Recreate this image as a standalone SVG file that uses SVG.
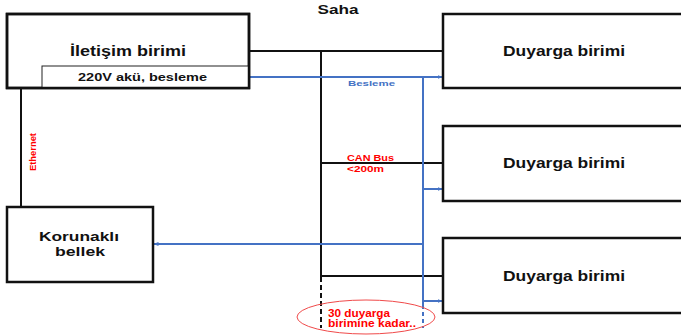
<svg xmlns="http://www.w3.org/2000/svg" width="681" height="336" viewBox="0 0 681 336">
<style>
.box{fill:#fff;stroke:#111;stroke-width:2.5}
.t{font-family:"Liberation Sans",Arial,sans-serif;font-weight:bold;fill:#111}
.bl{stroke:#111;stroke-width:2;fill:none}
.bu{stroke:#4472C4;stroke-width:2;fill:none}
.red{font-family:"Liberation Sans",Arial,sans-serif;font-weight:bold;fill:#ff0000}
</style>
<defs>
<marker id="ah" viewBox="0 0 10 10" refX="9" refY="5" markerWidth="5" markerHeight="5" orient="auto-start-reverse" markerUnits="userSpaceOnUse">
<path d="M0,1 L10,5 L0,9 z" fill="#4472C4"/>
</marker>
</defs>
<rect width="681" height="336" fill="#fff"/>
<text class="t" x="338" y="14" font-size="13" text-anchor="middle" textLength="41" lengthAdjust="spacingAndGlyphs">Saha</text>
<g id="connectors">
<line class="bl" x1="21" y1="88" x2="21" y2="207"/>
<line class="bl" x1="249" y1="51" x2="443" y2="51"/>
<line class="bl" x1="321" y1="51" x2="321" y2="277"/>
<line class="bl" x1="321" y1="277" x2="321" y2="328" stroke-dasharray="5,3"/>
<line class="bl" x1="321" y1="163" x2="443" y2="163"/>
<line class="bl" x1="321" y1="276" x2="443" y2="276"/>
<line class="bu" x1="249" y1="77" x2="442" y2="77" marker-end="url(#ah)"/>
<line class="bu" x1="423" y1="77" x2="423" y2="305"/>
<line class="bu" x1="423" y1="305" x2="423" y2="328" stroke-dasharray="4,3"/>
<line class="bu" x1="423" y1="189" x2="442" y2="189" marker-end="url(#ah)"/>
<line class="bu" x1="423" y1="301" x2="442" y2="301" marker-end="url(#ah)"/>
<line class="bu" x1="423" y1="244" x2="154" y2="244" marker-end="url(#ah)"/>
<text x="371.5" y="86" font-size="8" text-anchor="middle" font-family="Liberation Sans,Arial,sans-serif" font-weight="bold" fill="#4472C4" textLength="47" lengthAdjust="spacingAndGlyphs">Besleme</text>
<text class="red" x="347" y="161" font-size="9" textLength="47" lengthAdjust="spacingAndGlyphs">CAN Bus</text>
<text class="red" x="347" y="171.5" font-size="9" textLength="37" lengthAdjust="spacingAndGlyphs">&lt;200m</text>
<text class="red" transform="translate(36,152) rotate(-90)" x="0" y="0" font-size="9" text-anchor="middle" textLength="38" lengthAdjust="spacingAndGlyphs">Ethernet</text>
</g>
<g id="iletisim">
<rect class="box" x="7" y="14" width="242" height="74"/>
<rect x="42" y="66" width="207" height="22" fill="#fff" stroke="#222" stroke-width="1"/>
<rect x="7" y="14" width="242" height="74" fill="none" stroke="#111" stroke-width="2.5"/>
<text class="t" x="128" y="56" font-size="14" text-anchor="middle" textLength="116" lengthAdjust="spacingAndGlyphs">İletişim birimi</text>
<text class="t" x="142.5" y="81" font-size="11" text-anchor="middle" textLength="129" lengthAdjust="spacingAndGlyphs">220V akü, besleme</text>
</g>
<g id="duyarga1">
<rect class="box" x="443" y="14" width="245" height="74"/>
<text class="t" x="564" y="56" font-size="14" text-anchor="middle" textLength="122" lengthAdjust="spacingAndGlyphs">Duyarga birimi</text>
</g>
<g id="duyarga2">
<rect class="box" x="443" y="126" width="245" height="75"/>
<text class="t" x="564" y="168" font-size="14" text-anchor="middle" textLength="122" lengthAdjust="spacingAndGlyphs">Duyarga birimi</text>
</g>
<g id="duyarga3">
<rect class="box" x="443" y="238" width="245" height="75"/>
<text class="t" x="564" y="281" font-size="14" text-anchor="middle" textLength="122" lengthAdjust="spacingAndGlyphs">Duyarga birimi</text>
</g>
<g id="korunakli">
<rect class="box" x="7" y="207" width="146" height="75"/>
<text class="t" x="79" y="241" font-size="13" text-anchor="middle" textLength="80" lengthAdjust="spacingAndGlyphs">Korunaklı</text>
<text class="t" x="80" y="256" font-size="13" text-anchor="middle" textLength="50" lengthAdjust="spacingAndGlyphs">bellek</text>
</g>
<g id="note">
<ellipse cx="366" cy="317" rx="69" ry="17" fill="none" stroke="#f04a4a" stroke-width="1"/>
<text class="red" x="328" y="317" font-size="10" textLength="62" lengthAdjust="spacingAndGlyphs">30 duyarga</text>
<text class="red" x="328" y="327" font-size="10" textLength="88" lengthAdjust="spacingAndGlyphs">birimine kadar..</text>
</g>
</svg>
